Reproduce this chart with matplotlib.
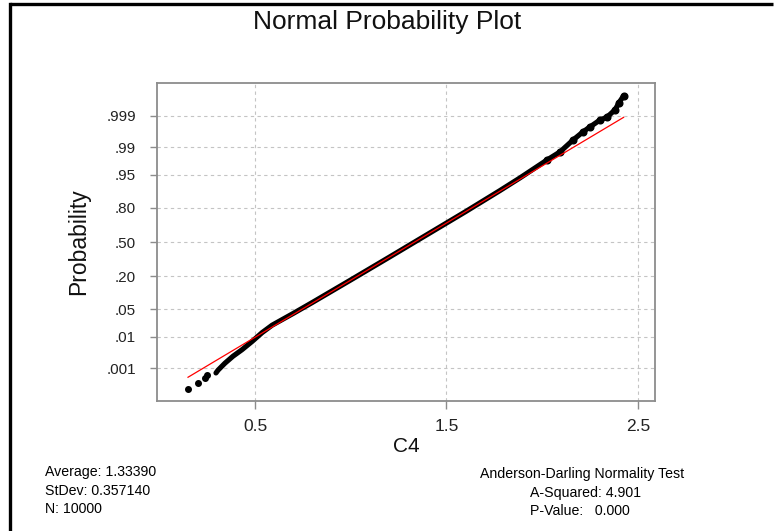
import numpy as np
import matplotlib
matplotlib.use("Agg")
import matplotlib.pyplot as plt
from matplotlib.lines import Line2D
from statistics import NormalDist

plt.rcParams['font.family'] = ['Liberation Sans', 'DejaVu Sans']

# Ordered sample values (C4) and their plotting-position probabilities
sample_c4 = [0.150, 0.202, 0.239, 0.249, 0.296, 0.307, 0.343, 0.385, 0.432,
             0.484, 0.537, 0.589, 0.700, 0.800, 0.900, 1.000, 1.200, 1.400,
             1.600, 1.779, 1.884, 2.025, 2.093, 2.161, 2.213, 2.249, 2.302,
             2.338, 2.380, 2.401, 2.425]
cum_prob = [0.000159, 0.000270, 0.000434, 0.000557, 0.000664, 0.000845,
            0.00149, 0.00256, 0.00415, 0.00734, 0.0132, 0.0207, 0.0401,
            0.0694, 0.1141, 0.1762, 0.3538, 0.5734, 0.7719, 0.8962, 0.942,
            0.9778, 0.9864, 0.99379, 0.99653, 0.99760, 0.99861, 0.99889,
            0.99940, 0.99968, 0.99983]
n_isolated = 4   # sparse points in the extreme lower tail
upper_tail = 21  # index where the upper tail bends away from the fit

# Summary statistics
average = 1.33390
stdev = 0.357140
n_obs = 10000
a_squared = 4.901
p_value = 0.000

# Axis ticks
prob_ticks = [0.001, 0.01, 0.05, 0.20, 0.50, 0.80, 0.95, 0.99, 0.999]
prob_labels = ['.001', '.01', '.05', '.20', '.50', '.80', '.95', '.99', '.999']
x_ticks = [0.5, 1.5, 2.5]
x_labels = ['0.5', '1.5', '2.5']

_std = NormalDist()
_ppf = np.vectorize(_std.inv_cdf, otypes=[float])
_cdf = np.vectorize(_std.cdf, otypes=[float])


def prob_to_z(p):
    p = np.clip(np.asarray(p, dtype=float), 1e-12, 1 - 1e-12)
    return _ppf(p)


def z_to_prob(z):
    return _cdf(np.asarray(z, dtype=float))


fig = plt.figure(figsize=(7.74, 5.31), dpi=100)
ax = fig.add_axes([157 / 774, 1 - 401 / 531, 498 / 774, 318 / 531])
ax.set_yscale('function', functions=(prob_to_z, z_to_prob))

zlim = 3.897
ax.set_ylim(_std.cdf(-zlim), _std.cdf(zlim))
ax.set_xlim(-0.012, 2.589)

xs = np.array(sample_c4)
ps = np.array(cum_prob)

# Dense body of the ordered data
ax.plot(xs[n_isolated:], ps[n_isolated:], color='black', lw=3.7,
        solid_capstyle='round', solid_joinstyle='round', zorder=3)
ax.plot(xs[:n_isolated], ps[:n_isolated], linestyle='none', marker='o',
        ms=4.0, color='black', zorder=3)
ax.plot(xs[upper_tail:], ps[upper_tail:], linestyle='none', marker='o',
        ms=4.8, color='black', zorder=3)

# Fitted normal line from the sample mean and standard deviation
fit = NormalDist(average, stdev)
x_fit = np.array([min(sample_c4), max(sample_c4)])
ax.plot(x_fit, [fit.cdf(v) for v in x_fit], color='#ff0000', lw=0.9, zorder=4)

ax.set_yticks(prob_ticks)
ax.set_yticklabels(prob_labels)
ax.minorticks_off()
ax.set_xticks(x_ticks)
ax.set_xticklabels(x_labels)

ax.grid(True, color='#c4c4c4', linestyle=(0, (3, 3)), lw=0.8)
ax.set_axisbelow(True)
for sp in ax.spines.values():
    sp.set_color('#8c8c8c')
    sp.set_linewidth(1.3)
ax.tick_params(axis='y', direction='out', length=5, width=1, color='#8c8c8c',
               labelsize=11, pad=10, labelcolor='#222222')
ax.tick_params(axis='x', direction='out', length=6, width=1, color='#8c8c8c',
               labelsize=12.5, pad=7, labelcolor='#222222')

ax.set_xlabel('C4', fontsize=15, labelpad=2, color='#111111')
ax.set_ylabel('Probability', fontsize=16.5, labelpad=12, color='#111111')

fig.text(387 / 774, 1 - 22 / 531, 'Normal Probability Plot', ha='center',
         va='center', fontsize=19, color='#111111')

# Descriptive statistics block
fs = 10.2
fig.text(45 / 774, 1 - 472 / 531, f'Average: {average:.5f}', fontsize=fs,
         va='center', ha='left')
fig.text(45 / 774, 1 - 491 / 531, f'StDev: {stdev:.6f}', fontsize=fs,
         va='center', ha='left')
fig.text(45 / 774, 1 - 509 / 531, f'N: {n_obs}', fontsize=fs,
         va='center', ha='left')

# Normality test block
fig.text(582 / 774, 1 - 474 / 531, 'Anderson-Darling Normality Test',
         fontsize=fs, va='center', ha='center')
fig.text(530 / 774, 1 - 493 / 531, f'A-Squared: {a_squared:.3f}',
         fontsize=fs, va='center', ha='left')
fig.text(530 / 774, 1 - 511 / 531, f'P-Value:   {p_value:.3f}',
         fontsize=fs, va='center', ha='left')

# Frame lines along the top and left edges
fig.add_artist(Line2D([10 / 774, 10 / 774], [0, 1 - 4 / 531],
                      color='black', lw=2.4, transform=fig.transFigure))
fig.add_artist(Line2D([10 / 774, 773 / 774], [1 - 4 / 531, 1 - 4 / 531],
                      color='black', lw=2.4, solid_capstyle='butt',
                      transform=fig.transFigure))

fig.savefig('out.png', dpi=100, facecolor='white')
